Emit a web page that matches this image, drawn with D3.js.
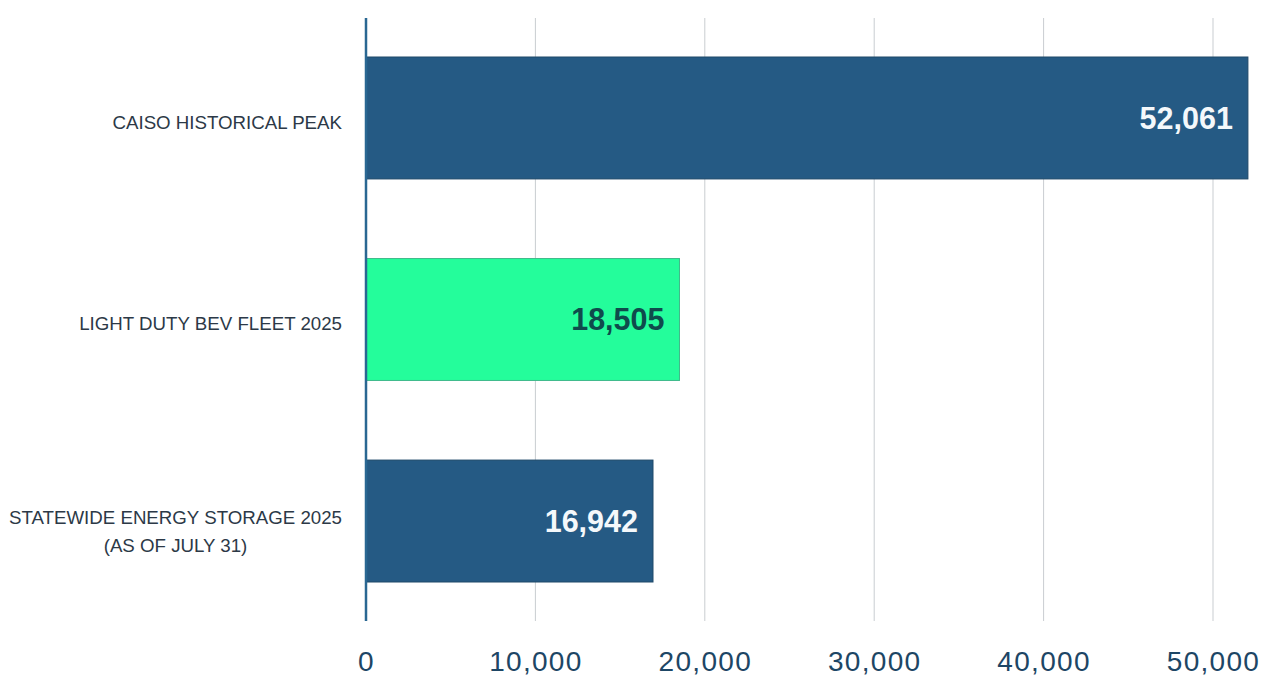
<!DOCTYPE html>
<html>
<head>
<meta charset="utf-8">
<script src="https://cdn.jsdelivr.net/npm/d3@7"></script>
<style>
	body { margin: 0; background: #ffffff; }
	#chart01 { width: 1264px; height: 677px; }
</style>
</head>
<body>
<div id="chart01"></div>
<script>
// data
var categories = ["CAISO HISTORICAL PEAK", "LIGHT DUTY BEV FLEET 2025", "STATEWIDE ENERGY STORAGE 2025"];
var subLabels = ["", "", "(AS OF JULY 31)"];
var values = [52061, 18505, 16942];
var highlight = [false, true, false];
var tickValues = [0, 10000, 20000, 30000, 40000, 50000];

var width = 1264;
var height = 677;
var margin = { top: 18, left: 366, axisBottom: 621 };

var svg = d3.select("#chart01").append("svg").attr("width", width).attr("height", height);

var x = d3.scaleLinear().domain([0, 50000]).range([margin.left, 1213]);
var y = d3.scaleBand().domain(categories).range([57, 582]).paddingInner(0.395).paddingOuter(0);

// gridlines
svg
	.append("g")
	.selectAll("line")
	.data(tickValues.slice(1))
	.enter()
	.append("line")
	.attr("x1", (d) => x(d))
	.attr("x2", (d) => x(d))
	.attr("y1", margin.top)
	.attr("y2", margin.axisBottom)
	.attr("stroke", "#c9cdd1")
	.attr("stroke-width", 1);

// bars
svg
	.append("g")
	.selectAll("rect")
	.data(values)
	.enter()
	.append("rect")
	.attr("x", x(0))
	.attr("y", (d, i) => y(categories[i]))
	.attr("width", (d) => x(d) - x(0))
	.attr("height", y.bandwidth())
	.attr("fill", (d, i) => (highlight[i] ? "#24fd9b" : "#255a84"))
	.attr("stroke", (d, i) => (highlight[i] ? "#3fb98a" : "#1f4868"))
	.attr("stroke-width", 1);

// value labels inside bars
svg
	.append("g")
	.selectAll("text")
	.data(values)
	.enter()
	.append("text")
	.attr("x", (d) => x(d) - 15)
	.attr("y", (d, i) => y(categories[i]) + y.bandwidth() / 2)
	.attr("dy", "0.36em")
	.attr("text-anchor", "end")
	.attr("font-family", "Liberation Sans, Arial, sans-serif")
	.attr("font-weight", "bold")
	.attr("font-size", "30.5px")
	.attr("fill", (d, i) => (highlight[i] ? "#0f4b4c" : "#f4f8fb"))
	.text((d) => d3.format(",")(d));

// category labels
categories.forEach((c, i) => {
	var cy = y(c) + y.bandwidth() / 2;
	var hasSub = subLabels[i] !== "";
	var t = svg
		.append("text")
		.attr("x", 342)
		.attr("y", hasSub ? cy - 3.5 : cy + 4)
		.attr("dy", "0.36em")
		.attr("text-anchor", "end")
		.attr("font-family", "Liberation Sans, Arial, sans-serif")
		.attr("font-size", "18.7px")
		.attr("fill", "#2c3947")
		.text(c);
	if (hasSub) {
		var w = t.node().getComputedTextLength();
		svg
			.append("text")
			.attr("x", 342 - w / 2)
			.attr("y", cy + 24)
			.attr("dy", "0.36em")
			.attr("text-anchor", "middle")
			.attr("font-family", "Liberation Sans, Arial, sans-serif")
			.attr("font-size", "18.7px")
			.attr("fill", "#2c3947")
			.text(subLabels[i]);
	}
});

// x axis tick labels
svg
	.append("g")
	.selectAll("text")
	.data(tickValues)
	.enter()
	.append("text")
	.attr("x", (d) => x(d) + 0.5)
	.attr("y", 661)
	.attr("dy", "0.36em")
	.attr("text-anchor", "middle")
	.attr("font-family", "Liberation Sans, Arial, sans-serif")
	.attr("font-size", "28px")
	.attr("letter-spacing", "1.3px")
	.attr("fill", "#1d4665")
	.text((d) => d3.format(",")(d));

// y axis line
svg
	.append("line")
	.attr("x1", x(0))
	.attr("x2", x(0))
	.attr("y1", margin.top)
	.attr("y2", margin.axisBottom)
	.attr("stroke", "#2a6792")
	.attr("stroke-width", 2.5);
</script>
</body>
</html>
